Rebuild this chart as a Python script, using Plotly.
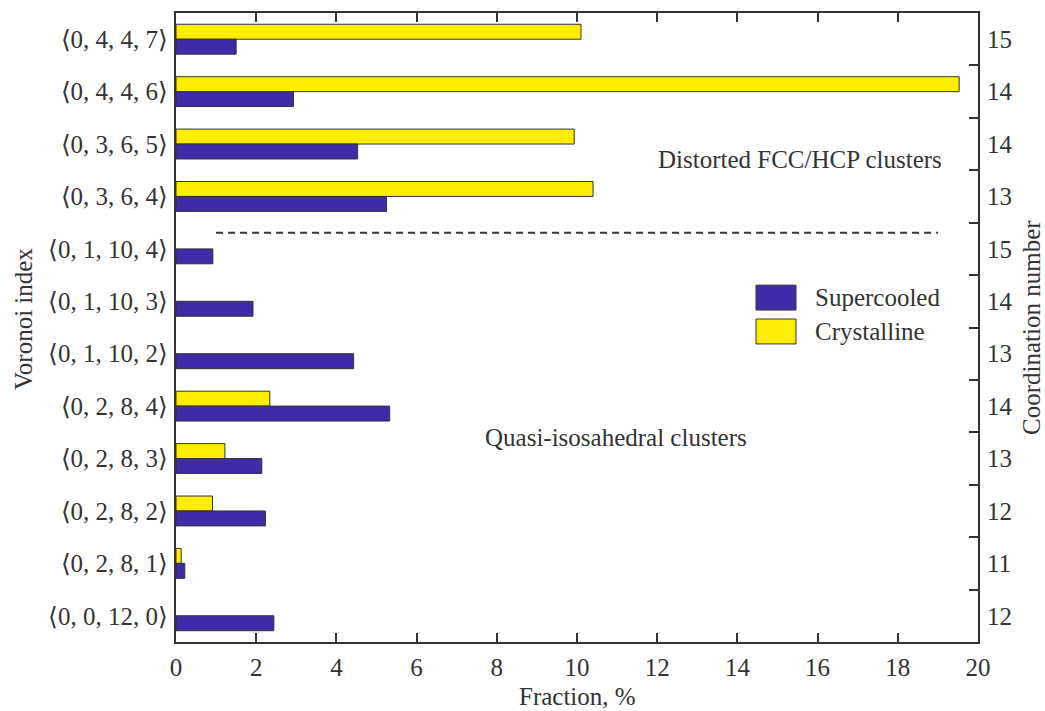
import plotly.graph_objects as go

# Voronoi polyhedra, listed top to bottom
voronoi = ["⟨0, 4, 4, 7⟩", "⟨0, 4, 4, 6⟩", "⟨0, 3, 6, 5⟩", "⟨0, 3, 6, 4⟩",
           "⟨0, 1, 10, 4⟩", "⟨0, 1, 10, 3⟩", "⟨0, 1, 10, 2⟩", "⟨0, 2, 8, 4⟩",
           "⟨0, 2, 8, 3⟩", "⟨0, 2, 8, 2⟩", "⟨0, 2, 8, 1⟩", "⟨0, 0, 12, 0⟩"]
coordination = ["15", "14", "14", "13", "15", "14", "13", "14", "13", "12", "11", "12"]

# Fractions, %
supercooled = [1.5, 2.93, 4.53, 5.25, 0.92, 1.92, 4.43, 5.33, 2.14, 2.23, 0.22, 2.44]
crystalline = [10.1, 19.53, 9.93, 10.4, None, None, None, 2.34, 1.22, 0.91, 0.13, None]

BLUE = "#3F2BA8"
YELLOW = "#FFED00"
INK = "#333333"
FONT = "Liberation Serif"
FS = 25

fig = go.Figure()
fig.add_trace(go.Bar(y=voronoi, x=crystalline, orientation="h", name="Crystalline",
                     marker=dict(color=YELLOW, line=dict(color=INK, width=1)),
                     showlegend=False))
fig.add_trace(go.Bar(y=voronoi, x=supercooled, orientation="h", name="Supercooled",
                     marker=dict(color=BLUE, line=dict(color=INK, width=1)),
                     showlegend=False))
# invisible carrier for the coordination-number axis on the right
fig.add_trace(go.Scatter(y=voronoi, x=[0] * len(voronoi), yaxis="y2", mode="markers",
                         marker=dict(opacity=0), hoverinfo="skip", showlegend=False))

fig.update_layout(
    width=1045, height=711,
    margin=dict(l=176, r=67, t=11, b=69),
    paper_bgcolor="white", plot_bgcolor="white",
    barmode="group", bargap=0.43, bargroupgap=0,
    font=dict(family=FONT, size=FS, color=INK),
    xaxis=dict(range=[0, 20], tickvals=list(range(0, 21, 2)), ticks="inside",
               ticklen=9, tickwidth=1.5, tickcolor=INK, showline=True, linewidth=2,
               linecolor=INK, mirror="ticks", showgrid=False, zeroline=False,
               ticklabelstandoff=2, tickfont=dict(size=FS)),
    yaxis=dict(type="category", categoryorder="array", categoryarray=voronoi,
               range=[11.5, -0.5], ticks="", showline=True, linewidth=2,
               linecolor=INK, mirror=True, showgrid=False, zeroline=False,
               ticklabelstandoff=1, tickfont=dict(size=FS)),
    yaxis2=dict(type="category", categoryorder="array", categoryarray=voronoi,
                range=[11.5, -0.5], overlaying="y", side="right",
                tickmode="array", tickvals=voronoi, ticktext=coordination,
                tickson="boundaries", ticks="inside", ticklen=9, tickwidth=1.5,
                tickcolor=INK, showline=False, showgrid=False, zeroline=False,
                ticklabelstandoff=8, tickfont=dict(size=FS)),
)

# separator between the two cluster families
fig.add_shape(type="line", xref="x", yref="y", x0=1, x1=19, y0=3.69, y1=3.69,
              line=dict(color=INK, width=2, dash="7px,5px"))

# legend keys
plot_w, plot_h = 1045 - 176 - 67, 711 - 11 - 69
def px(xp):
    return (xp - 176) / plot_w
def py(yp):
    return (711 - 69 - yp) / plot_h

for (y0, y1, col, label) in [(284, 309, BLUE, "Supercooled"), (318, 343, YELLOW, "Crystalline")]:
    fig.add_shape(type="rect", xref="paper", yref="paper", x0=px(756), x1=px(796),
                  y0=py(y1), y1=py(y0), fillcolor=col, line=dict(color=INK, width=1))
    fig.add_annotation(xref="paper", yref="paper", x=px(813), y=py((y0 + y1) / 2),
                       text=label, showarrow=False, xanchor="left", yanchor="middle",
                       font=dict(size=FS, color=INK))

fig.add_annotation(xref="paper", yref="paper", x=px(800), y=py(158),
                   text="Distorted FCC/HCP clusters", showarrow=False,
                   xanchor="center", yanchor="middle", font=dict(size=FS, color=INK))
fig.add_annotation(xref="paper", yref="paper", x=px(616), y=py(437),
                   text="Quasi-isosahedral clusters", showarrow=False,
                   xanchor="center", yanchor="middle", font=dict(size=FS, color=INK))

# axis titles
fig.add_annotation(xref="paper", yref="paper", x=px(577), y=py(697),
                   text="Fraction, %", showarrow=False, xanchor="center",
                   yanchor="middle", font=dict(size=FS, color=INK))
fig.add_annotation(xref="paper", yref="paper", x=px(23), y=py(318),
                   text="Voronoi index", showarrow=False, textangle=-90,
                   xanchor="center", yanchor="middle", font=dict(size=FS, color=INK))
fig.add_annotation(xref="paper", yref="paper", x=px(1032), y=py(327),
                   text="Coordination number", showarrow=False, textangle=-90,
                   xanchor="center", yanchor="middle", font=dict(size=FS, color=INK))

fig.write_html("out.html")
